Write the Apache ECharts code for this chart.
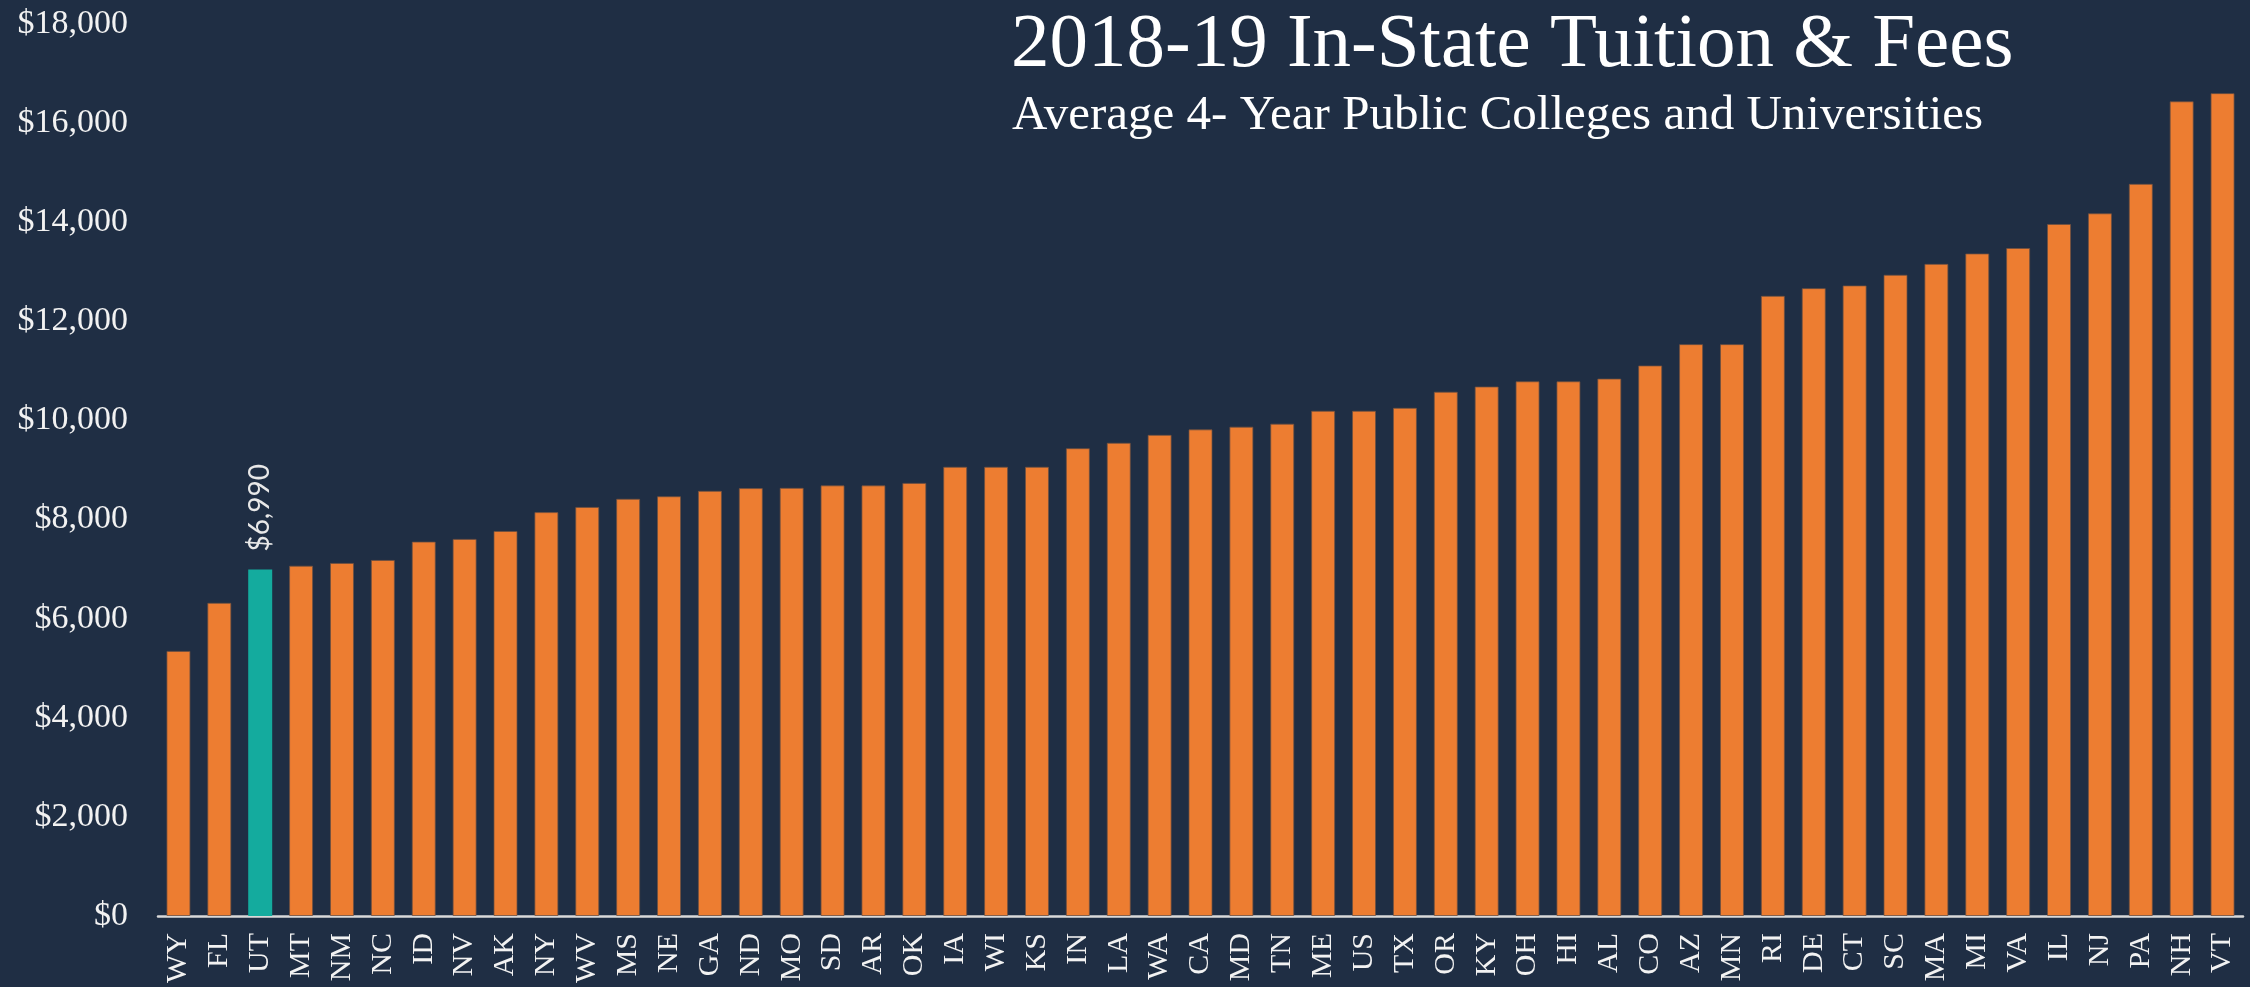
<!DOCTYPE html>
<html>
<head>
<meta charset="utf-8">
<script src="https://cdn.jsdelivr.net/npm/echarts@6/dist/echarts.min.js"></script>
<style>
html,body{margin:0;padding:0;background:#1f2e44;}
#chart{width:2250px;height:987px;}
</style>
</head>
<body>
<div id="chart"></div>
<script>
var categories = ["WY","FL","UT","MT","NM","NC","ID","NV","AK","NY","WV","MS","NE","GA","ND","MO","SD","AR","OK","IA","WI","KS","IN","LA","WA","CA","MD","TN","ME","US","TX","OR","KY","OH","HI","AL","CO","AZ","MN","RI","DE","CT","SC","MA","MI","VA","IL","NJ","PA","NH","VT"];
var tuition = [5350,6320,6990,7070,7125,7185,7555,7610,7770,8150,8255,8420,8470,8580,8635,8640,8690,8690,8740,9065,9065,9065,9440,9550,9710,9820,9875,9935,10195,10195,10255,10580,10685,10790,10790,10845,11110,11540,11540,12515,12670,12725,12940,13160,13370,13480,13965,14180,14775,16440,16605];
var highlightState = "UT";
var yMin = 0, yMax = 18000, yStep = 2000;
var titleText = "2018-19 In-State Tuition & Fees";
var subtitleText = "Average 4- Year Public Colleges and Universities";

function money(v){ return '$' + v.toLocaleString('en-US'); }

var chart = echarts.init(document.getElementById('chart'));
var serif = '"Liberation Serif","DejaVu Serif",serif';
var barData = tuition.map(function(v,i){
  if (categories[i] === highlightState) {
    return {value:v, itemStyle:{color:'#14ab9e', borderWidth:0},
      label:{show:true, position:'top', rotate:90, align:'left', verticalAlign:'middle', distance:18,
        formatter:function(p){return money(p.value);}, color:'#e8e8e8', fontSize:28, fontFamily:'Lato,"Open Sans",sans-serif'}};
  }
  return v;
});

chart.setOption({
  backgroundColor:'#1f2e44',
  animation:false,
  title:[
    {text:titleText, left:1006, top:2, textStyle:{color:'#ffffff', fontSize:77, fontWeight:'normal', fontFamily:serif}},
    {text:subtitleText, left:1007, top:87, textStyle:{color:'#ffffff', fontSize:49, fontWeight:'normal', fontFamily:serif}}
  ],
  grid:{left:158, right:7, top:24, bottom:71, containLabel:false},
  xAxis:{
    type:'category', data:categories,
    axisLine:{show:true, lineStyle:{color:'#d9d9d9', width:2.5}},
    axisTick:{show:false},
    axisLabel:{rotate:90, interval:0, margin:17, color:'#f2f2f2', fontSize:30, fontFamily:serif}
  },
  yAxis:{
    type:'value', min:yMin, max:yMax, interval:yStep,
    axisLine:{show:false}, axisTick:{show:false},
    splitLine:{show:false},
    axisLabel:{margin:30, color:'#f2f2f2', fontSize:34, fontFamily:serif, formatter:function(v){return money(v);}}
  },
  series:[{
    type:'bar', data:barData, barWidth:24,
    itemStyle:{color:'#ed7d31', borderColor:'rgba(110,80,65,0.75)', borderWidth:1}
  }]
});
</script>
</body>
</html>
